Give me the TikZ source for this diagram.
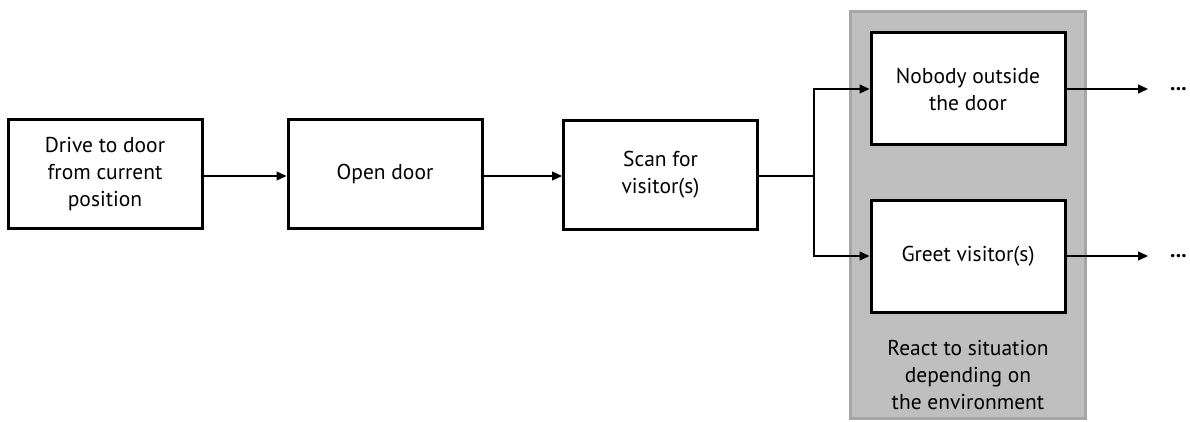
\documentclass[tikz,border=0pt]{standalone}
\usepackage{fontspec}
\setmainfont{PT Sans}
\usetikzlibrary{arrows.meta}
\begin{document}
\begin{tikzpicture}[x=1pt,y=-1pt,
  txt/.style={font=\fontsize{21.5}{27}\selectfont},
  stepbox/.style={txt, draw=black, line width=3pt, fill=white, minimum width=194pt,
    minimum height=108pt, align=center, inner sep=0pt},
  etc/.style={font=\fontsize{21.5}{27}\selectfont\bfseries, anchor=west,
    inner xsep=22pt, inner ysep=0pt},
  link/.style={line width=1.3pt, -{Triangle[length=10pt,width=9pt]}},
  plain/.style={line width=1.3pt}]
\useasboundingbox (0,0) rectangle (1190,422);
% grey panel for the situation-dependent reactions
\node[draw={rgb,255:red,166;green,166;blue,166}, line width=3pt,
  fill={rgb,255:red,191;green,191;blue,191}, minimum width=235pt, minimum height=406pt,
  inner sep=0pt] (panel) at (967.5,215) {};
\node (drive) [stepbox] at (105,174) {Drive to door\\from current\\position};
\node (open) [stepbox] at (385,174) {Open door};
\node (scan) [stepbox] at (660.5,175) {Scan for\\visitor(s)};
\node (nobody) [stepbox, minimum height=112pt] at (968,89) {Nobody outside\\the door};
\node (greet) [stepbox, minimum height=112pt] at (968,256) {Greet visitor(s)};
\node (react) [txt, align=center] at (968,375)
  {React to situation\\depending on\\the environment};
\node (dots1) [etc] at (1148,89) {...};
\node (dots2) [etc] at (1148,256) {...};
\coordinate (split) at (814,176);
\draw[link] (drive.east |- 0,176) -- (open.west |- 0,176);
\draw[link] (open.east |- 0,176) -- (scan.west |- 0,176);
\draw[plain] (scan.east |- split) -- (split);
\draw[link] (split) |- (nobody.west);
\draw[link] (split) |- (greet.west);
\draw[link] (nobody.east) -- (dots1.west);
\draw[link] (greet.east) -- (dots2.west);
\end{tikzpicture}
\end{document}
